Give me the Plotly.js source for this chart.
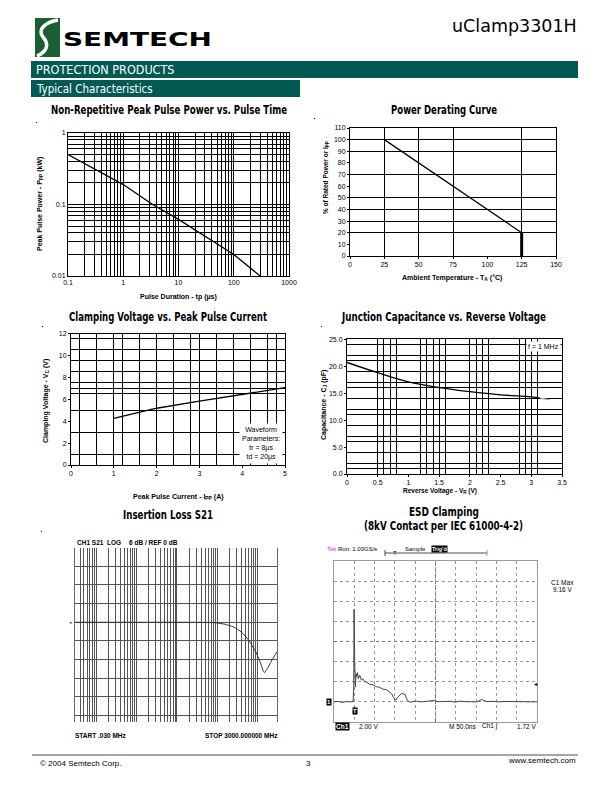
<!DOCTYPE html>
<html>
<head>
<meta charset="utf-8">
<script src="https://cdn.plot.ly/plotly-3.0.1.min.js"></script>
<style>
body { margin: 0; background: #fff; }
#page { position: relative; width: 612px; height: 792px; overflow: hidden; }
#chart { position: absolute; left: 0; top: 0; width: 612px; height: 792px; }
#overlay { position: absolute; left: 0; top: 0; pointer-events: none; }
</style>
</head>
<body>
<div id="page">
<div id="chart"></div>
<svg id="overlay" width="612" height="792">
  <!-- logo -->
  <rect x="35" y="18" width="25" height="39" fill="#1b5e32"/>
  <path d="M58,20 C46,22 37,29 43,37 C49,44 48,51 37,56" stroke="#fff" stroke-width="3.5" fill="none"/>
  <text x="63" y="46" font-size="20" style="font-family:'DejaVu Sans',Arial,sans-serif;font-weight:bold;font-size:20px" textLength="149" lengthAdjust="spacingAndGlyphs">SEMTECH</text>
  <!-- chart titles -->
  <g style="font-family:'DejaVu Sans Condensed','DejaVu Sans',sans-serif;font-weight:bold">
    <text x="51" y="114" font-size="12" style="font-size:12px" textLength="236" lengthAdjust="spacingAndGlyphs">Non-Repetitive Peak Pulse Power vs. Pulse Time</text>
    <text x="391" y="114" font-size="12" style="font-size:12px" textLength="106" lengthAdjust="spacingAndGlyphs">Power Derating Curve</text>
    <text x="69" y="321" font-size="12" style="font-size:12px" textLength="198" lengthAdjust="spacingAndGlyphs">Clamping Voltage vs. Peak Pulse Current</text>
    <text x="342" y="321" font-size="12" style="font-size:12px" textLength="204" lengthAdjust="spacingAndGlyphs">Junction Capacitance vs. Reverse Voltage</text>
    <text x="123" y="519" font-size="12" style="font-size:12px" textLength="90" lengthAdjust="spacingAndGlyphs">Insertion Loss S21</text>
    <text x="409" y="516" font-size="11.5" style="font-size:11.5px" textLength="70" lengthAdjust="spacingAndGlyphs">ESD Clamping</text>
    <text x="364" y="530" font-size="11.5" style="font-size:11.5px" textLength="159" lengthAdjust="spacingAndGlyphs">(8kV Contact per IEC 61000-4-2)</text>
  </g>
</svg>
</div>
<script>
// --- data ---

// Non-Repetitive Peak Pulse Power vs. Pulse Time
var tpUs = [0.1, 1, 3.4, 10, 100, 300];
var pppKw = [0.5, 0.19, 0.1, 0.062, 0.02, 0.01];
var tpTicks = [0.1, 1, 10, 100, 1000];
var tpLabels = ['0.1', '1', '10', '100', '1000'];
var pppTicks = [0.01, 0.1, 1];
var pppLabels = ['0.01', '0.1', '1'];

// Power Derating Curve
var tempC = [25, 125, 125];
var ratedPct = [100, 20, 0];
var tempTicks = [0, 25, 50, 75, 100, 125, 150];
var pctTicks = [0, 10, 20, 30, 40, 50, 60, 70, 80, 90, 100, 110];
var tempGrid = [25, 50, 75, 125];
var pctGrid = [20, 30, 40, 50, 70, 90, 100];

// Clamping Voltage vs. Peak Pulse Current
var ippA = [1, 2, 3, 4, 5];
var vcV = [4.25, 5.18, 5.82, 6.46, 7.06];
var ippTicks = [0, 1, 2, 3, 4, 5];
var vcTicks = [0, 2, 4, 6, 8, 10, 12];
var ippGrid = [0.2, 0.6, 1, 1.2, 1.6, 2, 2.4, 2.8, 3, 3.4, 3.8, 4.2, 4.6, 4.8];
var vcGrid = [1, 3, 5, 6.5, 7, 7.5, 8.5, 9.5, 10.5, 11.5];

// Junction Capacitance vs. Reverse Voltage
var vrV = [0, 0.5, 1, 1.5, 2, 2.5, 3, 3.15, 3.3];
var cjPf = [20.7, 18.8, 17.1, 16.05, 15.3, 14.7, 14.3, 14.05, 13.8];
var vrTicks = [0, 0.5, 1, 1.5, 2, 2.5, 3, 3.5];
var vrLabels = ['0', '0.5', '1', '1.5', '2', '2.5', '3', '3.5'];
var cjTicks = [0, 5, 10, 15, 20, 25];
var cjLabels = ['0.0', '5.0', '10.0', '15.0', '20.0', '25.0'];
var vrGrid = [0.5, 0.6, 0.7, 0.8, 1.2, 1.3, 1.4, 1.5, 1.6, 2, 2.1, 2.2, 2.3, 2.8, 2.9, 3, 3.1];
var cjGrid = [1, 2, 4, 6, 7, 9, 11, 12, 14, 16, 17, 19, 21, 22, 24];

// Insertion Loss S21 (network analyser, 6 dB/div, ref 0 dB)
var freqMHz = [0.03, 1, 10, 80, 150, 250, 400, 600, 900, 1200, 1450, 1800, 2300, 3000];
var s21dB = [0, 0, 0, -0.1, -0.6, -1.5, -3.2, -5.8, -9.6, -13.5, -16.2, -14.5, -12, -9.5];
var dbGrid = [-30, -24, -18, -12, -6, 0, 6, 12, 18, 24];

// ESD Clamping scope trace (50 ns/div, 2 V/div)
var tNs = [0, 10, 20, 30, 40, 47, 48.6, 49.4, 51, 52.7, 54.4, 56, 57.7, 60, 63.4,
  67.5, 71, 75.8, 80, 88, 96, 104.6, 112, 121, 130, 137.6, 142, 145.8, 151.6, 158,
  166, 174.6, 180.4, 187, 195, 203, 215, 228, 244.6, 258, 269, 285, 298, 310.5, 325,
  340, 352, 364, 376, 390, 405, 420, 434, 450, 465, 480, 500];
var vClamp = [0, 0.05, -0.05, 0.03, 0, 0.03, 1.5, 9.2, 4.1, 1.5, 2.8, 2.5, 2.9, 2.3, 2.65,
  2.15, 2.3, 2.0, 1.95, 1.75, 1.7, 1.5, 1.45, 1.26, 1.2, 1.0, 0.8, 0.5, 0.17, 0.5,
  0.83, 0.76, 0.17, -0.03, 0.05, 0.07, 0.0, 0.08, 0.13, 0.02, 0.03, 0.06, -0.02, 0.07, 0.02,
  0.05, 0.0, 0.23, 0.03, 0.05, 0.0, 0.04, 0.03, 0.0, 0.05, 0.02, 0];

// --- page helpers ---
var W = 612, H = 792;
function px(x) { return x / W; }
function py(y) { return 1 - y / H; }

var tickFam = 'Liberation Sans, Arial, sans-serif';
var condFam = 'DejaVu Sans Condensed, DejaVu Sans, sans-serif';
var green = '#005a52';

// log gridlines at 2..9 of every decade
function logMinor(start, decades) {
  var out = [];
  for (var d = 0; d < decades; d++) {
    var base = start * Math.pow(10, d);
    for (var k = 2; k <= 9; k++) out.push(+(k * base).toPrecision(3));
  }
  return out;
}

function axis(extra) {
  var a = {
    showline: true, mirror: true, linecolor: '#000', linewidth: 1,
    showgrid: false, zeroline: false,
    ticks: 'outside', ticklen: 2, tickcolor: '#000',
    tickfont: {family: tickFam, size: 7, color: '#000'},
    fixedrange: true
  };
  for (var k in extra) a[k] = extra[k];
  return a;
}
function gridMinor(vals, color) {
  return {tickmode: 'array', tickvals: vals, showgrid: true, gridcolor: color || '#000', gridwidth: 1, ticks: ''};
}

var notes = [];
function note(text, x, y, o) {
  o = o || {};
  notes.push({
    text: text, xref: 'paper', yref: 'paper', x: px(x), y: py(y), showarrow: false,
    xanchor: o.xanchor || 'center', yanchor: o.yanchor || 'middle',
    textangle: o.angle || 0,
    font: {family: o.family || tickFam, size: o.size || 7, color: o.color || '#000'},
    bgcolor: o.bg || 'rgba(0,0,0,0)', borderpad: o.pad === undefined ? 1 : o.pad
  });
}

// page header and footer
note('uClamp3301H', 578, 26, {xanchor: 'right', family: 'DejaVu Sans, sans-serif', size: 17.5, pad: 0});
note('PROTECTION PRODUCTS', 35, 70, {xanchor: 'left', family: condFam, size: 12.5, color: '#fff', pad: 0});
note('Typical Characteristics', 35, 89, {xanchor: 'left', family: condFam, size: 11.5, color: '#fff', pad: 0});
note('© 2004 Semtech Corp.', 38, 763, {xanchor: 'left', size: 8});
note('3', 308, 763, {size: 8});
note('www.semtech.com', 578, 760, {xanchor: 'right', size: 8});

// axis titles
note('<b>Pulse Duration - tp (µs)</b>', 178, 297);
note('<b>Peak Pulse Power - P<sub>PP</sub> (kW)</b>', 40, 204, {angle: -90});
note('<b>Ambient Temperature - T<sub>A</sub> (°C)</b>', 452, 278);
note('<b>% of Rated Power or I<sub>PP</sub></b>', 326, 178, {angle: -90, size: 6.5});
note('<b>Peak Pulse Current - I<sub>PP</sub> (A)</b>', 178, 497);
note('<b>Clamping Voltage - V<sub>C</sub> (V)</b>', 46, 401, {angle: -90});
note('<b>Reverse Voltage - V<sub>R</sub> (V)</b>', 440, 491, {size: 6.5});
note('<b>Capacitance - C<sub>J</sub> (pF)</b>', 324, 405, {angle: -90});

// in-plot labels
note('Waveform<br>Parameters:<br>tr = 8µs<br>td = 20µs', 261, 443, {size: 7, bg: '#fff', pad: 2});
note('f = 1 MHz', 561, 346, {xanchor: 'right', size: 7, bg: '#fff', pad: 1});

// network analyser text
note('<b>CH1 S21</b>', 75, 542, {xanchor: 'left', size: 6.5});
note('<b>LOG</b>', 105, 542, {xanchor: 'left', size: 6.5});
note('<b>6 dB / REF 0 dB</b>', 127, 542, {xanchor: 'left', size: 6.5});
note('<b>START .030 MHz</b>', 73, 735, {xanchor: 'left', size: 6.5});
note('<b>STOP 3000.000000 MHz</b>', 203, 735, {xanchor: 'left', size: 6.5});
note('▸', 75, 622, {xanchor: 'right', size: 5, color: '#555'});

// scope text
var sc = 6.5;
note('<span style="color:#e020e0">Tek</span> Run: 1.00GS/s', 325, 549, {xanchor: 'left', size: 6});
note('Sample', 403, 549, {xanchor: 'left', size: 6});
note('<b>Trig\'d</b>', 431, 549, {xanchor: 'left', size: 5.5, color: '#fff', bg: '#000', pad: 0});
note('T', 395, 553, {size: 6});
note('C1 Max', 562, 582, {size: sc});
note('9.16 V', 562, 589, {size: sc});
note('<b>Ch1</b>', 335, 726, {xanchor: 'left', size: sc, color: '#fff', bg: '#000', pad: 0});
note('2.00 V', 357, 726, {xanchor: 'left', size: sc});
note('M 50.0ns', 447, 726, {xanchor: 'left', size: sc});
note('Ch1 ∫', 480, 726, {xanchor: 'left', size: sc});
note('1.72 V', 515, 726, {xanchor: 'left', size: sc});
note('<b>1</b>', 329, 702, {size: 6, color: '#fff', bg: '#000', pad: 0});
note('<b>T</b>', 355, 711, {size: 6, color: '#fff', bg: '#000', pad: 0});
note('◂', 535, 684, {size: 6});

function paperLine(x0, y0, x1, y1, color, width) {
  return {type: 'line', xref: 'paper', yref: 'paper', x0: px(x0), x1: px(x1), y0: py(y0), y1: py(y1),
    line: {color: color, width: width}};
}
function paperRect(x0, y0, x1, y1, fill) {
  return {type: 'rect', xref: 'paper', yref: 'paper', x0: px(x0), x1: px(x1), y0: py(y1), y1: py(y0),
    fillcolor: fill, line: {width: 0}};
}

var shapes = [
  paperRect(31, 61, 578, 78, green),
  paperRect(31, 80, 300, 97, green),
  paperLine(32, 755, 578, 755, '#000', 0.7),
  // trigger position bar on the scope
  paperLine(385, 553, 487, 553, '#000', 0.7),
  paperLine(385, 550, 385, 556, '#000', 0.7),
  paperLine(487, 550, 487, 556, '#c040c0', 0.7),
  // scope centre cross
  {type: 'line', xref: 'x6 domain', yref: 'y6 domain', x0: 0.5, x1: 0.5, y0: 0, y1: 1, line: {color: '#777', width: 1, dash: 'dot'}},
  {type: 'line', xref: 'x6 domain', yref: 'y6 domain', x0: 0, x1: 1, y0: 0.5, y1: 0.5, line: {color: '#777', width: 1, dash: 'dot'}}
];
// stray specks printed on the page
[[36, 122], [314, 118], [42, 326], [321, 326], [41, 531]].forEach(function (s) {
  shapes.push(paperRect(s[0], s[1], s[0] + 1, s[1] + 1, '#000'));
});

var line = {color: '#000', width: 1.3};
var traces = [
  {x: tpUs, y: pppKw, xaxis: 'x', yaxis: 'y', mode: 'lines', line: line, hoverinfo: 'skip'},
  {x: tempC, y: ratedPct, xaxis: 'x2', yaxis: 'y2', mode: 'lines', line: line, hoverinfo: 'skip'},
  {x: tempC.slice(1), y: ratedPct.slice(1), xaxis: 'x2', yaxis: 'y2', mode: 'lines', line: {color: '#000', width: 3}, hoverinfo: 'skip'},
  {x: ippA, y: vcV, xaxis: 'x3', yaxis: 'y3', mode: 'lines', line: line, hoverinfo: 'skip'},
  {x: vrV.slice(0, 8), y: cjPf.slice(0, 8), xaxis: 'x4', yaxis: 'y4', mode: 'lines', line: {color: '#000', width: 1.3, shape: 'spline'}, hoverinfo: 'skip'},
  {x: vrV.slice(7), y: cjPf.slice(7), xaxis: 'x4', yaxis: 'y4', mode: 'lines', line: {color: '#aaa', width: 1.3}, hoverinfo: 'skip'},
  {x: freqMHz, y: s21dB, xaxis: 'x5', yaxis: 'y5', mode: 'lines', line: {color: '#333', width: 1, shape: 'spline', smoothing: 0.6}, hoverinfo: 'skip'},
  {x: tNs, y: vClamp, xaxis: 'x6', yaxis: 'y6', mode: 'lines', line: {color: '#444', width: 1}, hoverinfo: 'skip'}
];

var layout = {
  width: W, height: H,
  margin: {l: 0, r: 0, t: 0, b: 0},
  paper_bgcolor: '#fff', plot_bgcolor: '#fff',
  showlegend: false,
  font: {family: tickFam, size: 7, color: '#000'},

  xaxis: axis({domain: [px(68), px(289)], anchor: 'y', type: 'log', range: [-1, 3],
    tickmode: 'array', tickvals: tpTicks, ticktext: tpLabels, showgrid: true, gridcolor: '#000', ticks: '',
    minor: gridMinor(logMinor(0.1, 4))}),
  yaxis: axis({domain: [py(276), py(133)], anchor: 'x', type: 'log', range: [-2, 0],
    tickmode: 'array', tickvals: pppTicks, ticktext: pppLabels, showgrid: true, gridcolor: '#000', ticks: '',
    minor: gridMinor(logMinor(0.01, 2))}),

  xaxis2: axis({domain: [px(350), px(556)], anchor: 'y2', range: [0, 150],
    tickmode: 'array', tickvals: tempTicks, minor: gridMinor(tempGrid)}),
  yaxis2: axis({domain: [py(256), py(128)], anchor: 'x2', range: [0, 110],
    tickmode: 'array', tickvals: pctTicks, minor: gridMinor(pctGrid)}),

  xaxis3: axis({domain: [px(71), px(285)], anchor: 'y3', range: [0, 5],
    tickmode: 'array', tickvals: ippTicks, minor: gridMinor(ippGrid)}),
  yaxis3: axis({domain: [py(465), py(333.5)], anchor: 'x3', range: [0, 12],
    tickmode: 'array', tickvals: vcTicks, minor: gridMinor(vcGrid)}),

  xaxis4: axis({domain: [px(347), px(562)], anchor: 'y4', range: [0, 3.5],
    tickmode: 'array', tickvals: vrTicks, ticktext: vrLabels, minor: gridMinor(vrGrid)}),
  yaxis4: axis({domain: [py(474), py(339.3)], anchor: 'x4', range: [0, 25],
    tickmode: 'array', tickvals: cjTicks, ticktext: cjLabels, minor: gridMinor(cjGrid)}),

  xaxis5: axis({domain: [px(75), px(277)], anchor: 'y5', type: 'log', range: [Math.log10(0.03), Math.log10(3000)],
    showline: false, showticklabels: false, ticks: '',
    tickmode: 'array', tickvals: [0.1, 1, 10, 100, 1000], showgrid: true, gridcolor: '#555',
    minor: gridMinor([0.04, 0.05, 0.06, 0.07, 0.08, 0.09].concat(logMinor(0.1, 4)), '#555')}),
  yaxis5: axis({domain: [py(722), py(547.7)], anchor: 'x5', range: [-32.1, 24],
    linecolor: '#666', showticklabels: false, ticks: '',
    tickmode: 'array', tickvals: dbGrid, showgrid: true, gridcolor: '#555'}),

  xaxis6: axis({domain: [px(334), px(537)], anchor: 'y6', range: [0, 500],
    linecolor: '#999', showticklabels: false, ticks: '',
    tickmode: 'linear', tick0: 0, dtick: 50, showgrid: true, gridcolor: '#999', griddash: 'dot'}),
  yaxis6: axis({domain: [py(722), py(561)], anchor: 'x6', range: [-2, 14],
    linecolor: '#999', showticklabels: false, ticks: '',
    tickmode: 'linear', tick0: -2, dtick: 2, showgrid: true, gridcolor: '#999', griddash: 'dot'}),

  annotations: notes,
  shapes: shapes
};

Plotly.newPlot('chart', traces, layout, {staticPlot: true});
</script>
</body>
</html>
